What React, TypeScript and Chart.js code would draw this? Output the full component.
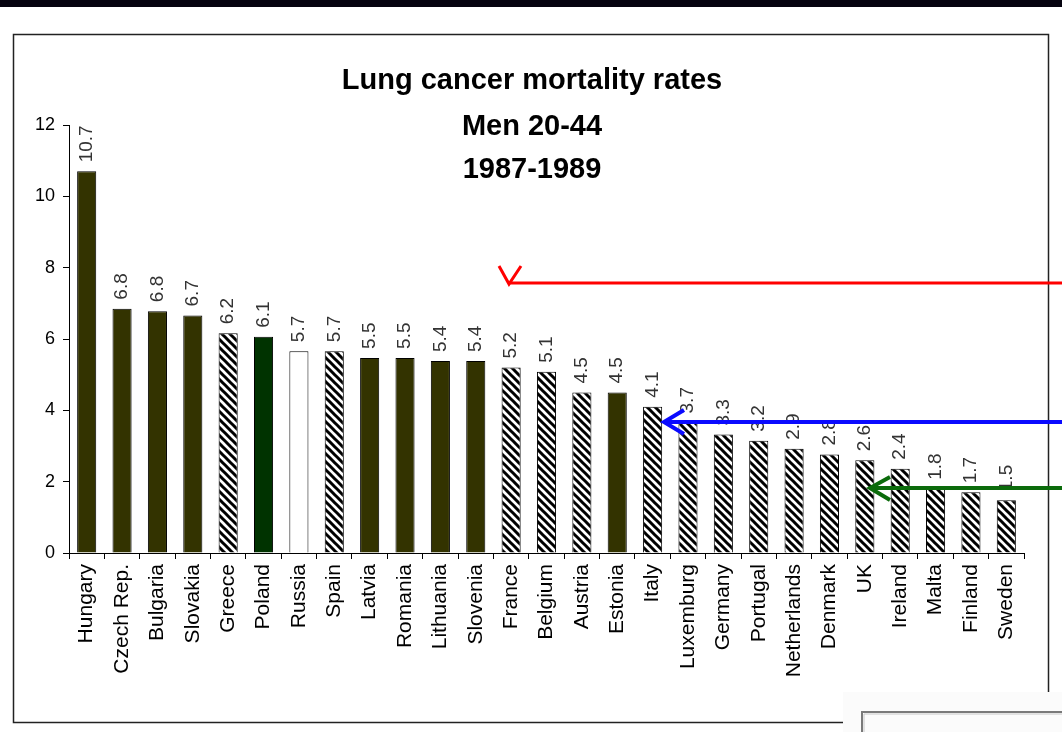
import React, { useEffect, useRef } from "react";
import { Chart, registerables } from "chart.js";

Chart.register(...registerables);

const countries = [
  "Hungary", "Czech Rep.", "Bulgaria", "Slovakia", "Greece", "Poland", "Russia", "Spain",
  "Latvia", "Romania", "Lithuania", "Slovenia", "France", "Belgium", "Austria", "Estonia",
  "Italy", "Luxemburg", "Germany", "Portugal", "Netherlands", "Denmark", "UK", "Ireland",
  "Malta", "Finland", "Sweden",
];
const rates = [
  10.7, 6.85, 6.78, 6.66, 6.16, 6.06, 5.66, 5.66, 5.47, 5.47, 5.38, 5.38, 5.2, 5.08, 4.5, 4.5,
  4.1, 3.66, 3.32, 3.15, 2.92, 2.76, 2.6, 2.36, 1.8, 1.7, 1.48,
];
const valueLabels = [
  "10.7", "6.8", "6.8", "6.7", "6.2", "6.1", "5.7", "5.7", "5.5", "5.5", "5.4", "5.4", "5.2", "5.1",
  "4.5", "4.5", "4.1", "3.7", "3.3", "3.2", "2.9", "2.8", "2.6", "2.4", "1.8", "1.7", "1.5",
];
// fill kind per bar: d = dark olive, g = dark green, w = white, h = hatched
const fillKinds = [
  "d", "d", "d", "d", "h", "g", "w", "h", "d", "d", "d", "d", "h", "h", "h", "d",
  "h", "h", "h", "h", "h", "h", "h", "h", "h", "h", "h",
];
const yTicks = [0, 2, 4, 6, 8, 10, 12];
const titleLines = ["Lung cancer mortality rates", "Men 20-44", "1987-1989"];

const FONT = "'Liberation Sans', Arial, sans-serif";

function makeHatch(): CanvasPattern | string {
  const n = 8;
  const c = document.createElement("canvas");
  c.width = n;
  c.height = n;
  const g = c.getContext("2d");
  if (!g) return "#fff";
  g.fillStyle = "#fff";
  g.fillRect(0, 0, n, n);
  g.strokeStyle = "#000";
  g.lineWidth = 3;
  g.beginPath();
  g.moveTo(-2, -2);
  g.lineTo(n + 2, n + 2);
  g.moveTo(-n - 2, -2);
  g.lineTo(2, n + 2);
  g.moveTo(n - 2, -2);
  g.lineTo(2 * n + 2, n + 2);
  g.stroke();
  const p = g.createPattern(c, "repeat");
  return p || "#fff";
}

const framePlugin = {
  id: "framePlugin",
  beforeDraw(chart: any) {
    const ctx = chart.ctx;
    ctx.save();
    ctx.fillStyle = "#fff";
    ctx.fillRect(0, 0, chart.width, chart.height);
    ctx.fillStyle = "#05030f";
    ctx.fillRect(0, 0, chart.width, 7);
    ctx.strokeStyle = "#222";
    ctx.lineWidth = 1.5;
    ctx.strokeRect(13.5, 34.5, 1035, 688);
    // title
    ctx.fillStyle = "#000";
    ctx.font = `bold 29px ${FONT}`;
    ctx.textAlign = "center";
    ctx.textBaseline = "middle";
    const ys = [81, 127, 170];
    titleLines.forEach((t, i) => ctx.fillText(t, 532, ys[i]));
    ctx.restore();
  },
  afterDatasetsDraw(chart: any) {
    const ctx = chart.ctx;
    const meta = chart.getDatasetMeta(0);
    ctx.save();
    ctx.fillStyle = "#333";
    ctx.font = `19px ${FONT}`;
    ctx.textAlign = "left";
    ctx.textBaseline = "middle";
    meta.data.forEach((bar: any, i: number) => {
      ctx.save();
      ctx.translate(bar.x, bar.y - 9);
      ctx.rotate(-Math.PI / 2);
      ctx.fillText(valueLabels[i], 0, 0);
      ctx.restore();
    });
    ctx.restore();
  },
  afterDraw(chart: any) {
    const ctx = chart.ctx;
    ctx.save();
    ctx.lineCap = "butt";
    ctx.lineJoin = "miter";
    // red arrow
    ctx.strokeStyle = "#ff0000";
    ctx.lineWidth = 3;
    ctx.beginPath();
    ctx.moveTo(1062, 283);
    ctx.lineTo(510, 283);
    ctx.stroke();
    ctx.beginPath();
    ctx.moveTo(499, 266);
    ctx.lineTo(509, 284);
    ctx.lineTo(521, 266);
    ctx.stroke();
    // blue arrow
    ctx.strokeStyle = "#0a0aff";
    ctx.lineWidth = 4;
    ctx.beginPath();
    ctx.moveTo(1062, 422);
    ctx.lineTo(664, 422);
    ctx.stroke();
    ctx.beginPath();
    ctx.moveTo(684, 410);
    ctx.lineTo(664, 422);
    ctx.lineTo(684, 434);
    ctx.stroke();
    // green arrow
    ctx.strokeStyle = "#0b6b0b";
    ctx.lineWidth = 4;
    ctx.beginPath();
    ctx.moveTo(1062, 488);
    ctx.lineTo(870, 488);
    ctx.stroke();
    ctx.beginPath();
    ctx.moveTo(890, 477);
    ctx.lineTo(870, 488);
    ctx.lineTo(890, 500);
    ctx.stroke();
    // bottom-right overlay box
    ctx.fillStyle = "#fbfbfb";
    ctx.fillRect(843, 692, 219, 40);
    ctx.strokeStyle = "#c8c8c8";
    ctx.lineWidth = 1;
    ctx.beginPath();
    ctx.moveTo(864, 732);
    ctx.lineTo(864, 714);
    ctx.lineTo(1062, 714);
    ctx.stroke();
    ctx.strokeStyle = "#7a7a7a";
    ctx.lineWidth = 2;
    ctx.beginPath();
    ctx.moveTo(862, 732);
    ctx.lineTo(862, 712);
    ctx.lineTo(1062, 712);
    ctx.stroke();
    ctx.restore();
  },
};

export default function App() {
  const ref = useRef<HTMLCanvasElement | null>(null);
  useEffect(() => {
    if (!ref.current) return;
    const hatch = makeHatch();
    const colorMap: Record<string, any> = { d: "#333300", g: "#003300", w: "#ffffff", h: hatch };
    const chart = new Chart(ref.current, {
      type: "bar",
      data: {
        labels: countries,
        datasets: [
          {
            data: rates,
            backgroundColor: fillKinds.map((k) => colorMap[k]),
            borderColor: "#000",
            borderWidth: 1,
            barPercentage: 0.54,
            categoryPercentage: 1,
          },
        ],
      },
      options: {
        responsive: false,
        animation: false,
        events: [],
        layout: { padding: { top: 125, right: 38, left: 0, bottom: 0 } },
        plugins: { legend: { display: false }, title: { display: false }, tooltip: { enabled: false } },
        scales: {
          x: {
            grid: { display: true, drawOnChartArea: false, drawTicks: true, tickLength: 6, color: "#000", offset: true },
            border: { display: true, color: "#000", width: 1 },
            ticks: {
              autoSkip: false,
              maxRotation: 90,
              minRotation: 90,
              padding: 5,
              color: "#000",
              font: { family: FONT, size: 21 },
            },
            afterFit(scale: any) {
              scale.height = 179;
            },
          },
          y: {
            min: 0,
            max: 12,
            afterBuildTicks(scale: any) {
              scale.ticks = yTicks.map((v) => ({ value: v }));
            },
            grid: { display: true, drawOnChartArea: false, drawTicks: true, tickLength: 6, color: "#000" },
            border: { display: true, color: "#000", width: 1 },
            ticks: {
              padding: 8,
              color: "#000",
              font: { family: FONT, size: 18 },
            },
            afterFit(scale: any) {
              scale.width = 69;
            },
          },
        },
      },
      plugins: [framePlugin],
    });
    return () => chart.destroy();
  }, []);
  return (
    <div style={{ position: "absolute", left: 0, top: 0, width: 1062, height: 732 }}>
      <canvas ref={ref} width={1062} height={732} style={{ width: 1062, height: 732, display: "block" }} />
    </div>
  );
}
